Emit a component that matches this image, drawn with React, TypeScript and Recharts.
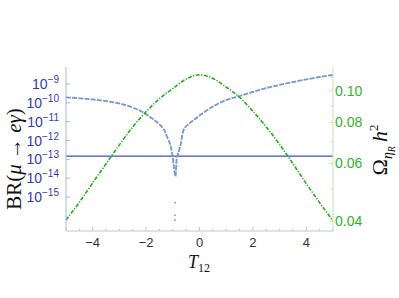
import React from 'react';
import { ComposedChart, Line, Scatter, XAxis, YAxis, ReferenceLine } from 'recharts';

if (typeof document !== 'undefined') document.body.style.margin = '0';

// BR(mu -> e gamma) vs T12
const brT = [-5, -4.5, -4, -3.5, -3, -2.5, -2, -1.75, -1.5, -1.3, -1.2, -1.1, -1.05, -1, -0.95, -0.9, -0.85, -0.8, -0.75, -0.7, -0.6, -0.4, -0.2, 0, 0.5, 1, 1.5, 2, 2.5, 3, 3.5, 4, 4.5, 5];
const brValues = [1.95e-10, 1.74e-10, 1.51e-10, 1.23e-10, 9.3e-11, 5.6e-11, 2.5e-11, 1.4e-11, 7.1e-12, 3.2e-12, 1.4e-12, 6.3e-13, 3.2e-13, 1.26e-13, 3.2e-14, 1.26e-14, 1.26e-13, 2.0e-13, 3.5e-13, 7.1e-13, 3.5e-12, 7.6e-12, 1.26e-11, 2.1e-11, 6.3e-11, 1.41e-10, 2.3e-10, 3.8e-10, 6.0e-10, 8.9e-10, 1.26e-9, 1.74e-9, 2.34e-9, 3.0e-9];

// stray points at the bottom of the dip
const dipT = [-0.92, -0.92, -0.92];
const dipValues = [5.0e-16, 1.07e-16, 5.9e-17];

// relic density
const omegaT = [-5, -4.5, -4, -3.5, -3, -2.5, -2, -1.5, -1, -0.5, 0, 0.5, 1, 1.5, 2, 2.5, 3, 3.5, 4, 4.5, 5];
const omegaValues = [0.0403, 0.0456, 0.0523, 0.0598, 0.0683, 0.0775, 0.0862, 0.0945, 0.1015, 0.1085, 0.1118, 0.109, 0.1025, 0.0955, 0.0865, 0.0775, 0.0685, 0.0598, 0.052, 0.0455, 0.04];

const brBound = 1.5e-13;

const xTicks = [-5, -4.5, -4, -3.5, -3, -2.5, -2, -1.5, -1, -0.5, 0, 0.5, 1, 1.5, 2, 2.5, 3, 3.5, 4, 4.5, 5];
const xLabels = [-4, -2, 0, 2, 4];
const brTicks = [1e-9, 1e-10, 1e-11, 1e-12, 1e-13, 1e-14, 1e-15];
const omegaTicks = [0.04, 0.05, 0.06, 0.07, 0.08, 0.09, 0.1, 0.11];
const omegaLabels = [0.04, 0.06, 0.08, 0.1];

const brData = brT.map((t, i) => ({ t, br: brValues[i] }));
const dipData = dipT.map((t, i) => ({ t, br: dipValues[i] }));
const omegaData = omegaT.map((t, i) => ({ t, omega: omegaValues[i] }));

const sans = 'Liberation Sans';
const serif = 'Liberation Serif';

const BottomTick = ({ x, y, payload }: any) => {
  const v = payload.value;
  const major = xLabels.includes(v);
  return (
    <g>
      <line x1={x} x2={x} y1={y} y2={y - (major ? 4 : 2.5)} stroke="#c4c4d4" />
      {major && (
        <text x={x} y={y + 16} textAnchor="middle" fontFamily={sans} fontSize={13} fill="#333">
          {v < 0 ? `\u2212${-v}` : v}
        </text>
      )}
    </g>
  );
};

const TopTick = ({ x, y, payload }: any) => {
  const major = xLabels.includes(payload.value);
  return <line x1={x} x2={x} y1={y} y2={y + (major ? 4 : 2.5)} stroke="#d0d0d0" />;
};

const LeftTick = ({ x, y, payload }: any) => {
  const exp = Math.round(Math.log10(payload.value));
  return (
    <g>
      <line x1={x} x2={x + 4} y1={y} y2={y} stroke="#aab4e6" />
      <text x={x - 7} y={y + 5} textAnchor="end" fontFamily={sans} fontSize={14} fill="#2f3bb8">
        10<tspan dy={-6} fontSize={10}>{`\u2212${-exp}`}</tspan>
      </text>
    </g>
  );
};

const RightTick = ({ x, y, payload }: any) => {
  const v = payload.value;
  const major = omegaLabels.includes(v);
  return (
    <g>
      <line x1={x} x2={x - (major ? 4 : 2.5)} y1={y} y2={y} stroke="#bfe6b5" />
      {major && (
        <text x={x + 2} y={y + 5} textAnchor="start" fontFamily={sans} fontSize={14} fill="#2fb32a">
          {v.toFixed(2)}
        </text>
      )}
    </g>
  );
};

const DipDot = ({ cx, cy }: any) => <circle cx={cx} cy={cy} r={0.9} fill="#7391cc" />;

export default function App() {
  return (
    <div style={{ width: 399, height: 298, background: '#fff' }}>
      <ComposedChart width={399} height={298} margin={{ top: 67, right: 0, bottom: 0, left: 0 }}>
        <XAxis
          dataKey="t"
          type="number"
          domain={[-5, 5]}
          ticks={xTicks}
          interval={0}
          height={67}
          tickSize={0}
          tickMargin={0}
          tickLine={false}
          stroke="#c4c4d4"
          tick={<BottomTick />}
          allowDataOverflow
        />
        <XAxis
          xAxisId="top"
          orientation="top"
          dataKey="t"
          type="number"
          domain={[-5, 5]}
          ticks={xTicks}
          interval={0}
          height={0}
          tickSize={0}
          tickMargin={0}
          tickLine={false}
          stroke="#d0d0d0"
          tick={<TopTick />}
          allowDataOverflow
        />
        <YAxis
          yAxisId="br"
          scale="log"
          domain={[1.58e-17, 7.94e-9]}
          ticks={brTicks}
          interval={0}
          width={66}
          tickSize={0}
          tickMargin={0}
          tickLine={false}
          stroke="#aab4e6"
          tick={<LeftTick />}
          allowDataOverflow
        />
        <YAxis
          yAxisId="omega"
          orientation="right"
          scale="log"
          domain={[0.03727, 0.1181]}
          ticks={omegaTicks}
          interval={0}
          width={66}
          tickSize={0}
          tickMargin={0}
          tickLine={false}
          stroke="#bfe6b5"
          tick={<RightTick />}
          allowDataOverflow
        />
        <ReferenceLine yAxisId="br" y={brBound} stroke="#3a4ed6" strokeWidth={1.2} />
        <Line
          yAxisId="br"
          data={brData}
          dataKey="br"
          type="monotone"
          stroke="#7696cf"
          strokeWidth={1.8}
          strokeDasharray="5 1.2"
          dot={false}
          isAnimationActive={false}
        />
        <Scatter yAxisId="br" data={dipData} dataKey="br" shape={<DipDot />} isAnimationActive={false} />
        <Line
          yAxisId="omega"
          data={omegaData}
          dataKey="omega"
          type="monotone"
          stroke="#22ad18"
          strokeWidth={1.6}
          strokeDasharray="4 1.5 1.2 1.5"
          dot={false}
          isAnimationActive={false}
        />
        <text transform="translate(21,159) rotate(-90)" textAnchor="middle" fontFamily={serif} fontSize={21} fill="#111">
          BR(<tspan fontStyle="italic">μ</tspan> → <tspan fontStyle="italic">eγ</tspan>)
        </text>
        <text transform="translate(387,150) rotate(-90)" textAnchor="middle" fontFamily={serif} fontSize={22} fill="#111">
          Ω<tspan fontStyle="italic" fontSize={14} dy={5}>η</tspan>
          <tspan fontStyle="italic" fontSize={10} dy={3}>R</tspan>
          <tspan fontStyle="italic" dy={-8} dx={4}>h</tspan>
          <tspan fontSize={13} dy={-9}>2</tspan>
        </text>
        <text x={199} y={268} textAnchor="middle" fontFamily={serif} fontSize={18} fill="#111">
          <tspan fontStyle="italic">T</tspan>
          <tspan fontSize={12} dy={4}>12</tspan>
        </text>
      </ComposedChart>
    </div>
  );
}
